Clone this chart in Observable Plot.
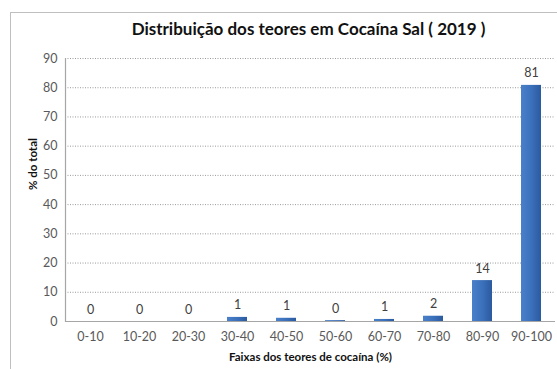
<!DOCTYPE html>
<html>
<head>
<meta charset="utf-8">
<script src="https://cdn.jsdelivr.net/npm/d3@7"></script>
<script src="https://cdn.jsdelivr.net/npm/@observablehq/plot@0.6"></script>
<style>
  html, body { margin: 0; padding: 0; background: #fff; }
  #chart { position: relative; width: 557px; height: 369px; overflow: hidden; font-family: Lato, "Liberation Sans", sans-serif; }
  #frame { position: absolute; left: 10px; top: 12px; width: 600px; height: 400px; border: 1px solid #bfbfbf; box-sizing: border-box; }
  #title { position: absolute; left: 60px; right: 0; top: 18px; text-align: center; font-weight: bold; font-size: 17px; color: #111; }
  #chart svg { position: absolute; left: 0; top: 0; }
</style>
</head>
<body>
<div id="chart">
  <div id="frame"></div>
  <div id="title">Distribuição dos teores em Cocaína Sal ( 2019 )</div>
</div>
<script>
// Faixas de teor de cocaína e percentagem de amostras em cada faixa
const faixas = ["0-10", "10-20", "20-30", "30-40", "40-50", "50-60", "60-70", "70-80", "80-90", "90-100"];
const percentagens = [0, 0, 0, 1.4, 1.1, 0.3, 0.7, 1.8, 14.0, 80.8];
const yTicks = [0, 10, 20, 30, 40, 50, 60, 70, 80, 90];

const data = faixas.map((faixa, i) => ({faixa, pct: percentagens[i]}));
const fmt = d3.format(".0f");

const plot = Plot.plot({
  width: 557,
  height: 369,
  marginLeft: 65,
  marginRight: 2,
  marginTop: 58,
  marginBottom: 48,
  style: {fontFamily: "Lato, 'Liberation Sans', sans-serif", fontSize: "12.5px", color: "#595959", background: "transparent"},
  x: {domain: faixas, paddingInner: 0.6, paddingOuter: 0.3, label: null},
  y: {domain: [0, 90], label: null},
  marks: [
    Plot.ruleY(yTicks.filter(t => t > 0), {stroke: "#9a9a9a", strokeDasharray: "1,1.5", strokeWidth: 1, strokeOpacity: 1}),
    Plot.barY(data, {x: "faixa", y: "pct", fill: "url(#barFill)"}),
    Plot.text(data, {x: "faixa", y: "pct", text: d => fmt(d.pct), dy: -12, fill: "#404040", fontSize: 12.5}),
    Plot.ruleY([0], {stroke: "#a6a6a6", strokeWidth: 1.2}),
    Plot.frame({anchor: "left", stroke: "#a6a6a6", strokeWidth: 1.2}),
    Plot.axisY({ticks: yTicks, tickSize: 0, tickPadding: 8, fill: "#595959", fontSize: 12.5, label: null}),
    Plot.axisX({tickSize: 0, tickPadding: 11, fill: "#595959", fontSize: 12.5, label: null}),
    Plot.text(["% do total"], {frameAnchor: "left", dx: -32, rotate: -90, fontWeight: "bold", fontSize: 11.5, fill: "#111"}),
    Plot.text(["Faixas dos teores de cocaína (%)"], {frameAnchor: "bottom", dy: 39, fontWeight: "bold", fontSize: 11.5, fill: "#111"})
  ]
});

// Gradiente azul das barras
const ns = "http://www.w3.org/2000/svg";
const defs = document.createElementNS(ns, "defs");
const grad = document.createElementNS(ns, "linearGradient");
grad.setAttribute("id", "barFill");
grad.setAttribute("x1", "0"); grad.setAttribute("y1", "0");
grad.setAttribute("x2", "1"); grad.setAttribute("y2", "0");
[["0%", "#4a7fc9"], ["55%", "#3a6fba"], ["100%", "#2b5a9e"]].forEach(([o, c]) => {
  const s = document.createElementNS(ns, "stop");
  s.setAttribute("offset", o);
  s.setAttribute("stop-color", c);
  grad.appendChild(s);
});
defs.appendChild(grad);
plot.insertBefore(defs, plot.firstChild);

document.getElementById("chart").appendChild(plot);
</script>
</body>
</html>
